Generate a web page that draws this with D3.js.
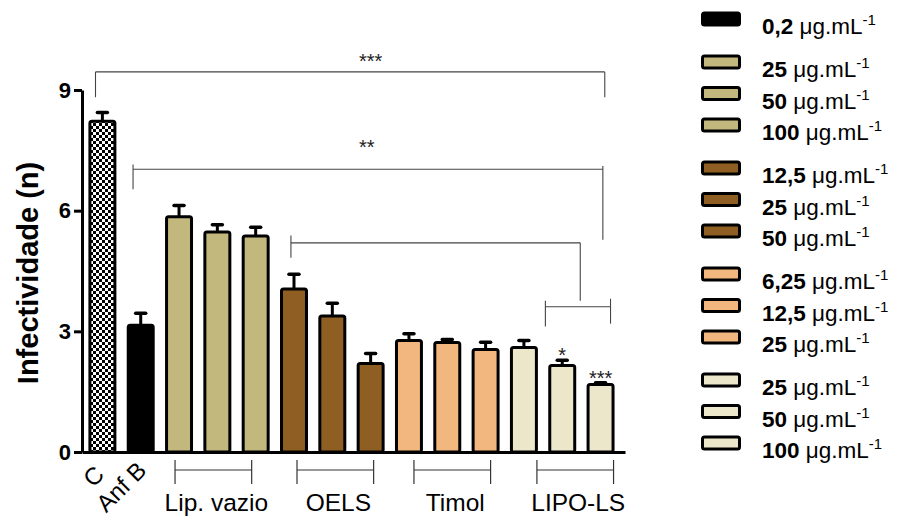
<!DOCTYPE html>
<html>
<head>
<meta charset="utf-8">
<script src="https://cdn.jsdelivr.net/npm/d3@7"></script>
<style>
  html, body { margin: 0; padding: 0; background: #fff; }
  svg { display: block; font-family: Arial, "Liberation Sans", Helvetica, sans-serif; }
</style>
</head>
<body>
<svg id="chart" width="913" height="520"></svg>
<script>
// Bars, left to right
const categories = ["C", "Anf B",
  "Lip. vazio 25", "Lip. vazio 50", "Lip. vazio 100",
  "OELS 12,5", "OELS 25", "OELS 50",
  "Timol 6,25", "Timol 12,5", "Timol 25",
  "LIPO-LS 25", "LIPO-LS 50", "LIPO-LS 100"];
const groupOf = ["C", "Anf B",
  "Lip. vazio", "Lip. vazio", "Lip. vazio",
  "OELS", "OELS", "OELS",
  "Timol", "Timol", "Timol",
  "LIPO-LS", "LIPO-LS", "LIPO-LS"];
const means = [8.22, 3.15, 5.85, 5.47, 5.37, 4.05, 3.38, 2.20, 2.77, 2.72, 2.55, 2.60, 2.15, 1.68];
const errors = [0.22, 0.30, 0.28, 0.18, 0.22, 0.37, 0.32, 0.25, 0.17, 0.08, 0.18, 0.17, 0.13, 0.04];
const barStars = ["", "", "", "", "", "", "", "", "", "", "", "", "*", "***"];

const rotatedLabels = ["C", "Anf B"];
const groupLabels = ["Lip. vazio", "OELS", "Timol", "LIPO-LS"];
const yTicks = [0, 3, 6, 9];

// Legend entries (one per treated bar)
const legendDoses = ["0,2", "25", "50", "100", "12,5", "25", "50", "6,25", "12,5", "25", "25", "50", "100"];
const legendGroups = ["Anf B", "Lip. vazio", "Lip. vazio", "Lip. vazio", "OELS", "OELS", "OELS",
  "Timol", "Timol", "Timol", "LIPO-LS", "LIPO-LS", "LIPO-LS"];
const legendUnit = "\u03bcg.mL";
const legendExp = "-1";

const fills = {
  "Anf B": "#000000",
  "Lip. vazio": "#C2B87E",
  "OELS": "#8E5E22",
  "Timol": "#F2B77F",
  "LIPO-LS": "#ECE6CB"
};

const svg = d3.select("#chart");

// checker fill for the control bar
const defs = svg.append("defs");
const pat = defs.append("pattern").attr("id", "checker")
  .attr("patternUnits", "userSpaceOnUse").attr("width", 6).attr("height", 6);
pat.append("rect").attr("width", 6).attr("height", 6).attr("fill", "#fff");
pat.append("rect").attr("width", 3).attr("height", 3).attr("fill", "#000");
pat.append("rect").attr("x", 3).attr("y", 3).attr("width", 3).attr("height", 3).attr("fill", "#000");

const x = d3.scaleBand().domain(categories).range([82, 625])
  .paddingInner(0.27).paddingOuter(0.22).align(0.38);
const y = d3.scaleLinear().domain([0, 9]).range([452, 90]);
const bw = x.bandwidth();
const cx = i => x(categories[i]) + bw / 2;
const at = f => x(categories[0]) + bw / 2 + f * x.step();   // fractional bar position

const fillOf = i => groupOf[i] === "C" ? "url(#checker)" : fills[groupOf[i]];

// bars
svg.append("g").selectAll("rect").data(means).join("rect")
  .attr("x", (d, i) => x(categories[i]) + 1.5)
  .attr("width", bw - 3)
  .attr("y", d => y(d))
  .attr("height", d => y(0) - y(d))
  .attr("rx", 2)
  .attr("fill", (d, i) => fillOf(i))
  .attr("stroke", "#000").attr("stroke-width", 3);

// error bars (upper only)
const eb = svg.append("g");
eb.selectAll("line.v").data(means).join("line").attr("class", "v")
  .attr("x1", (d, i) => cx(i)).attr("x2", (d, i) => cx(i))
  .attr("y1", d => y(d)).attr("y2", (d, i) => y(d + errors[i]))
  .attr("stroke", "#000").attr("stroke-width", 3);
eb.selectAll("line.c").data(means).join("line").attr("class", "c")
  .attr("x1", (d, i) => cx(i) - 5).attr("x2", (d, i) => cx(i) + 5)
  .attr("y1", (d, i) => y(d + errors[i])).attr("y2", (d, i) => y(d + errors[i]))
  .attr("stroke", "#000").attr("stroke-width", 3.5).attr("stroke-linecap", "round");

// stars on bars
svg.append("g").selectAll("text").data(barStars).join("text")
  .attr("x", (d, i) => cx(i)).attr("y", (d, i) => y(means[i] + errors[i]) + 2)
  .attr("text-anchor", "middle").attr("font-size", 20).attr("fill", "#222")
  .text(d => d);

// y axis
const yAxis = svg.append("g").attr("transform", `translate(${x.range()[0]},0)`)
  .call(d3.axisLeft(y).tickValues(yTicks).tickSize(8).tickSizeOuter(0).tickPadding(3).tickFormat(d3.format("d")));
yAxis.select(".domain").attr("stroke-width", 3);
yAxis.selectAll(".tick line").attr("stroke-width", 3);
yAxis.selectAll(".tick text").attr("font-size", 22).attr("font-weight", "bold")
  .attr("font-family", "Arial, 'Liberation Sans', sans-serif").attr("fill", "#000");

// x axis line
const xAxis = svg.append("g").attr("transform", `translate(0,${y(0)})`)
  .call(d3.axisBottom(x).tickValues([]).tickSizeOuter(0));
xAxis.select(".domain").attr("stroke-width", 3);

// y title
svg.append("text")
  .attr("transform", `translate(38,${(y(0) + y(9)) / 2 + 2}) rotate(-90)`)
  .attr("text-anchor", "middle").attr("font-size", 29).attr("font-weight", "bold")
  .text("Infectividade (n)");

// rotated category labels
svg.append("g").selectAll("text").data(rotatedLabels).join("text")
  .attr("transform", (d, i) => `translate(${cx(i) + (i ? 7 : 3)},${i ? 472 : 476}) rotate(-45)`)
  .attr("text-anchor", "end").attr("font-size", 24)
  .text(d => d);

// group brackets under the axis
const groupSpans = [[2, 4], [5, 7], [8, 10], [11, 13]];
const groupShift = [-4, 3, 5, 13];
const gb = svg.append("g").attr("stroke", "#333").attr("stroke-width", 1.2);
groupSpans.forEach(([a, b], k) => {
  const x1 = cx(a) + groupShift[k], x2 = cx(b) + groupShift[k];
  gb.append("line").attr("x1", x1).attr("x2", x2).attr("y1", 470).attr("y2", 470);
  gb.append("line").attr("x1", x1).attr("x2", x1).attr("y1", 460).attr("y2", 484);
  gb.append("line").attr("x1", x2).attr("x2", x2).attr("y1", 460).attr("y2", 484);
});
svg.append("g").selectAll("text").data(groupLabels).join("text")
  .attr("x", (d, k) => (cx(groupSpans[k][0]) + cx(groupSpans[k][1])) / 2 + groupShift[k] + 3)
  .attr("y", 511).attr("text-anchor", "middle").attr("font-size", 24.5)
  .text(d => d);

// significance brackets above the bars (positions in bar units / axis units)
const sig = [
  { from: -0.18, to: 13.11, level: 9.45, l: [9.45, 8.82], r: [9.45, 8.82], label: "***", labelAt: 7.0, labelLevel: 9.55 },
  { from: 0.8, to: 13.06, level: 7.03, l: [7.15, 6.53], r: [7.11, 5.28], label: "**", labelAt: 6.9, labelLevel: 7.41 },
  { from: 4.92, to: 12.47, level: 5.2, l: [5.38, 4.83], r: [5.2, 3.76], label: "" },
  { from: 11.56, to: 13.26, level: 3.61, l: [3.76, 3.12], r: [3.81, 3.19], label: "" }
];
const sg = svg.append("g");
sig.forEach(s => {
  const x1 = at(s.from), x2 = at(s.to);
  const g = sg.append("g").attr("stroke", "#444").attr("stroke-width", 1.1);
  g.append("line").attr("x1", x1).attr("x2", x2).attr("y1", y(s.level)).attr("y2", y(s.level));
  g.append("line").attr("x1", x1).attr("x2", x1).attr("y1", y(s.l[0])).attr("y2", y(s.l[1]));
  g.append("line").attr("x1", x2).attr("x2", x2).attr("y1", y(s.r[0])).attr("y2", y(s.r[1]));
  if (s.label) {
    sg.append("text").attr("x", at(s.labelAt)).attr("y", y(s.labelLevel))
      .attr("text-anchor", "middle").attr("font-size", 20).attr("fill", "#222").text(s.label);
  }
});

// legend
const legStep = 31.5, legGroupGap = 11.5;
const groupIndex = legendGroups.map(g => ["Anf B", "Lip. vazio", "OELS", "Timol", "LIPO-LS"].indexOf(g));
const legY = i => 19 + i * legStep + groupIndex[i] * legGroupGap;
const leg = svg.append("g");
leg.selectAll("rect").data(legendDoses).join("rect")
  .attr("x", 702.5).attr("width", 37)
  .attr("y", (d, i) => legY(i) - 6).attr("height", 12)
  .attr("rx", 2)
  .attr("fill", (d, i) => fills[legendGroups[i]])
  .attr("stroke", "#000").attr("stroke-width", 3);
const lt = leg.selectAll("text").data(legendDoses).join("text")
  .attr("x", 762).attr("y", (d, i) => legY(i) + 15).attr("font-size", 22.5);
lt.append("tspan").attr("font-weight", "bold").text(d => d + " ");
lt.append("tspan").text(legendUnit);
lt.append("tspan").attr("font-size", 15).attr("dy", -9).text(legendExp);
</script>
</body>
</html>
